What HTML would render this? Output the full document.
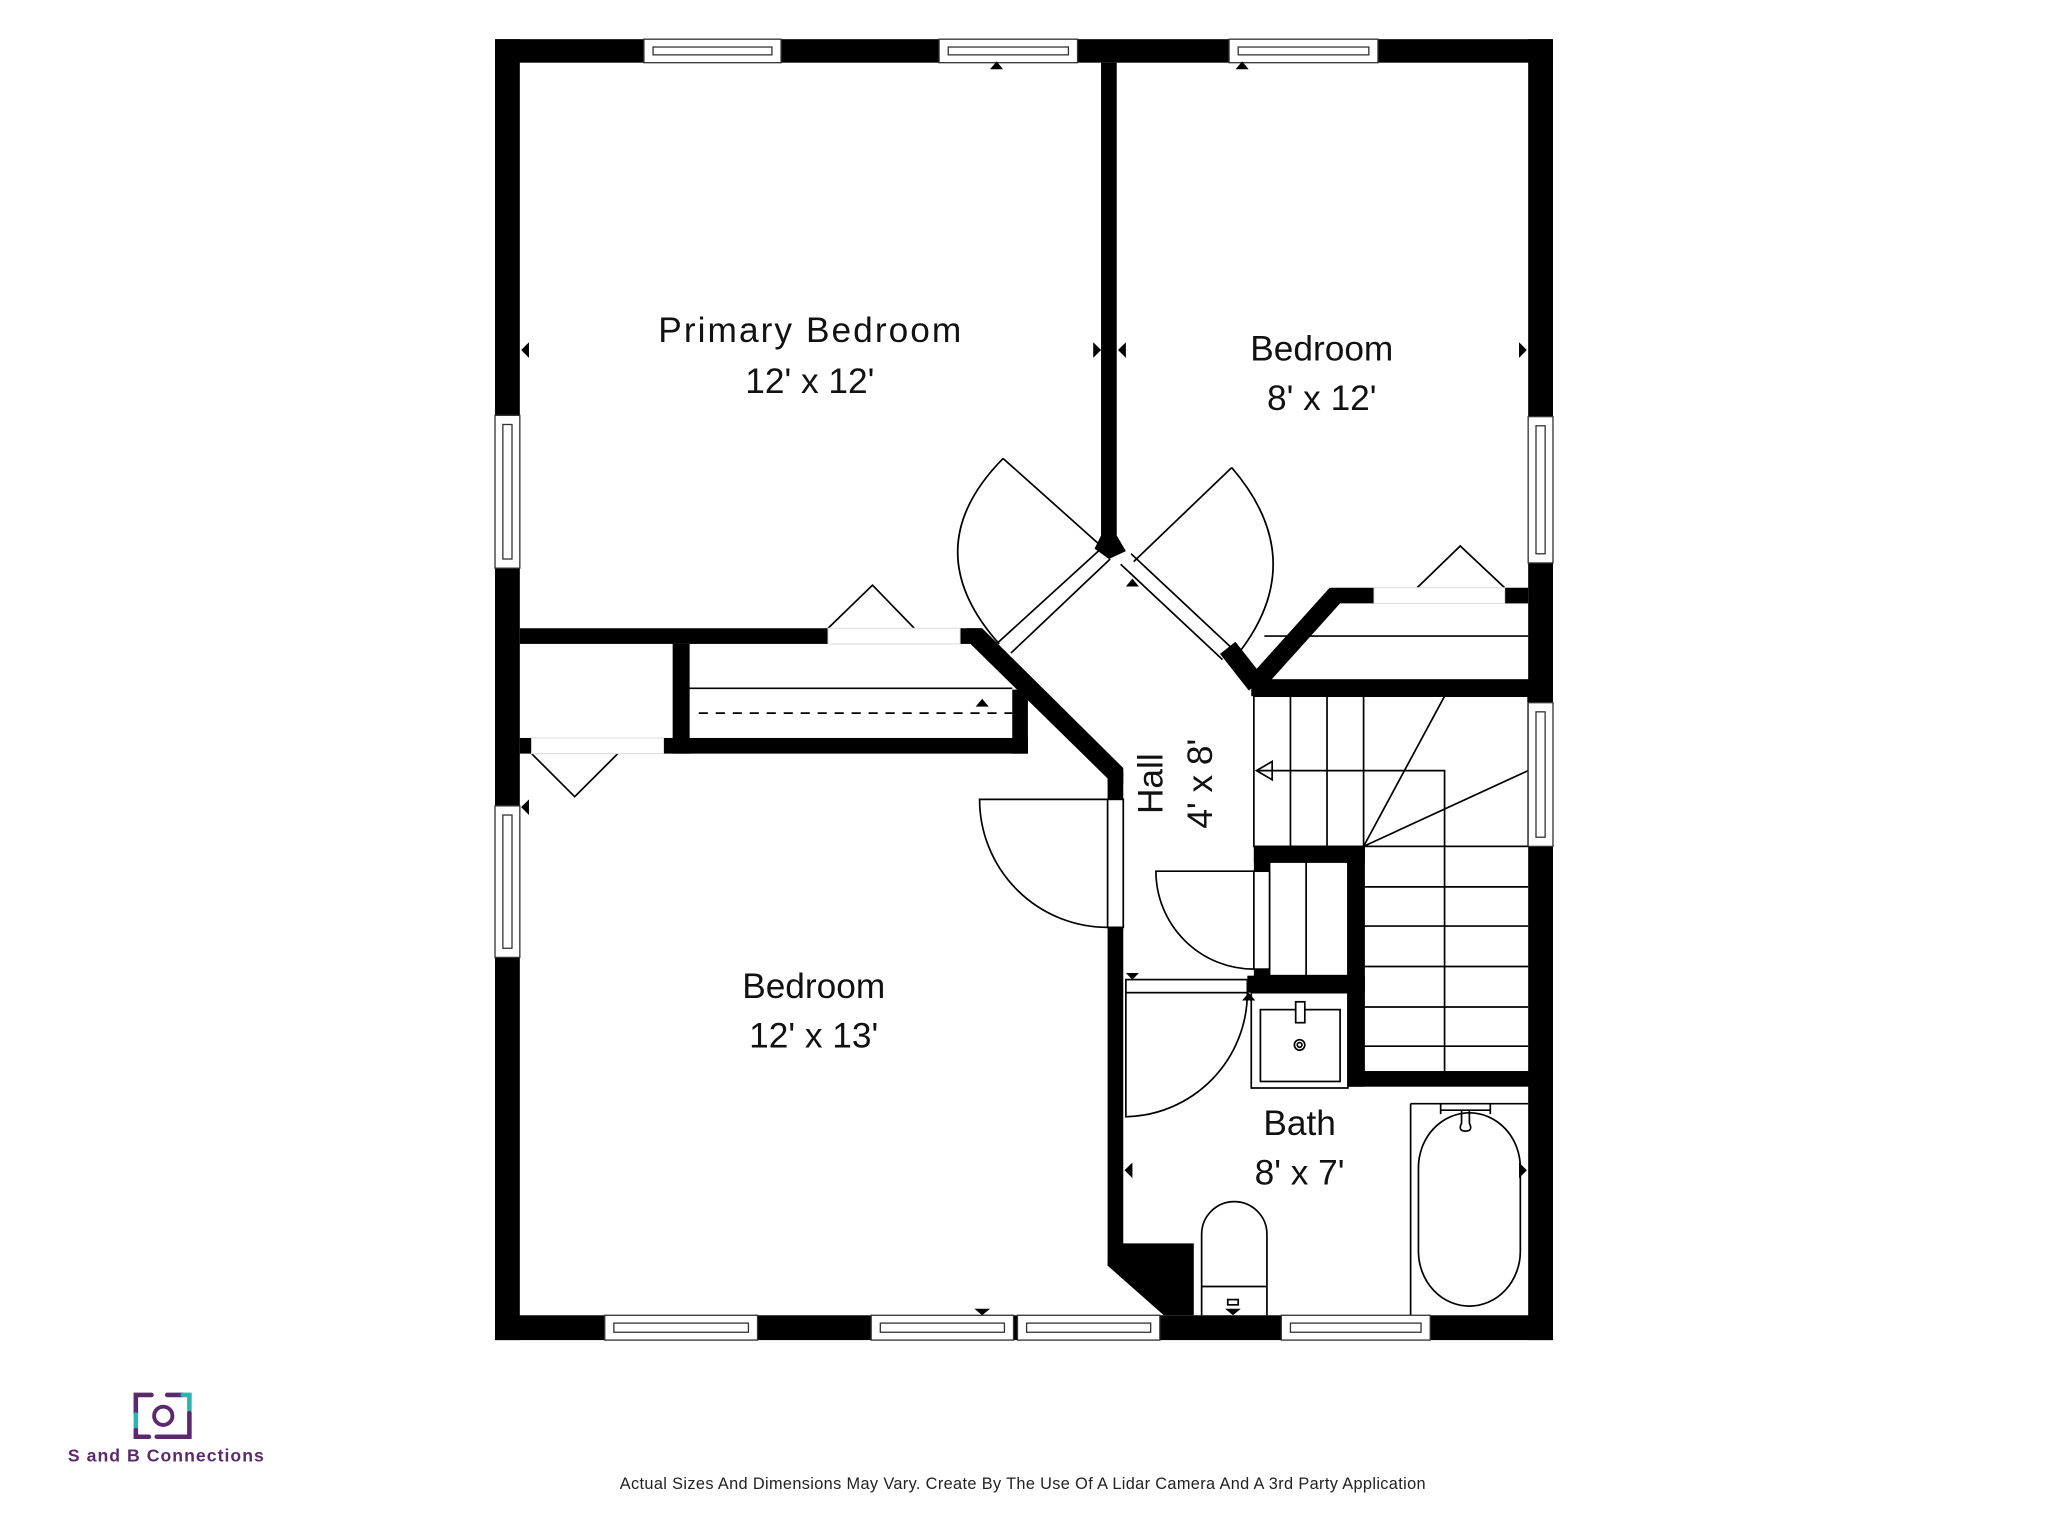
<!DOCTYPE html>
<html><head><meta charset="utf-8"><style>html,body{margin:0;padding:0;background:#fff}svg{display:block}</style></head>
<body>
<svg width="2048" height="1536" viewBox="0 0 1568 1176" xmlns="http://www.w3.org/2000/svg" font-family="'Liberation Sans', 'DejaVu Sans', sans-serif">
<rect width="1568" height="1176" fill="#fff"/>
<g fill="#000">
<rect x="379" y="30" width="810" height="18"/>
<rect x="379" y="30" width="19" height="996"/>
<rect x="1170" y="30" width="19" height="996"/>
<rect x="379" y="1007" width="810" height="19"/>
<rect x="843" y="48" width="12" height="370"/>
<polygon points="843,410 855,410 862,422 849,428 838,420"/>
<rect x="398" y="481" width="236" height="12"/>
<rect x="735" y="481" width="16" height="12"/>
<polygon points="740,481 752,481 860,588 860,600 848,600 848,596 742,492"/>
<rect x="515" y="493" width="13" height="84"/>
<rect x="508" y="565" width="279" height="12"/>
<rect x="775" y="528" width="12" height="49"/>
<rect x="398" y="565" width="9" height="12"/>
<rect x="848" y="590" width="12" height="22"/>
<rect x="848" y="710" width="12" height="259"/>
<polygon points="848,965 860,952 914,952 914,1007 891,1007 848,969"/>
<polygon points="955,520 1018,450 1052,450 1052,462 1026,462 972,522"/>
<rect x="1152" y="450" width="18" height="12"/>
<rect x="958" y="520" width="231" height="13"/>
<rect x="960" y="648" width="85" height="12"/>
<rect x="960" y="648" width="12" height="19"/>
<rect x="960" y="742" width="12" height="18"/>
<rect x="1032" y="648" width="13" height="184"/>
<rect x="1032" y="820" width="157" height="12"/>
<rect x="955" y="747" width="90" height="13"/>
</g>
<line x1="940" y1="496" x2="962" y2="524" stroke="#000" stroke-width="15"/>
<g stroke="#000" stroke-width="1.3" fill="none">
<line x1="528" y1="527" x2="775" y2="527"/>
<line x1="535" y1="546" x2="775" y2="546" stroke-dasharray="7,6"/>
<line x1="968" y1="487" x2="1170" y2="487"/>
<polyline points="634,481 668,448 700,481"/>
<polyline points="1085,450 1118,418 1152,450"/>
<polyline points="407,577 440,610 473,577"/>
<line x1="764" y1="492" x2="843" y2="420"/>
<line x1="774" y1="500" x2="850" y2="428"/>
<line x1="843" y1="418" x2="768" y2="351"/>
<path d="M768,351 Q700,420 765,493"/>
<line x1="858" y1="432" x2="936" y2="505"/>
<line x1="866" y1="424" x2="944" y2="497"/>
<line x1="868" y1="430" x2="943" y2="358"/>
<path d="M943,358 Q1005,430 946,503"/>
<rect x="848" y="612" width="12" height="98" fill="#fff"/>
<path d="M848,612 H750 A98,98 0 0 0 848,710"/>
<rect x="972" y="660" width="60" height="87"/>
<line x1="1000" y1="660" x2="1000" y2="747"/>
<rect x="960" y="667" width="12" height="75" fill="#fff"/>
<path d="M960,667 H885 A75,75 0 0 0 960,742"/>
<rect x="862" y="750" width="93" height="10" fill="#fff"/>
<path d="M862,760 V855 A95,95 0 0 0 955,760"/>
<rect x="960" y="533" width="210" height="115"/>
<line x1="988" y1="533" x2="988" y2="648"/>
<line x1="1016" y1="533" x2="1016" y2="648"/>
<line x1="1044" y1="533" x2="1044" y2="648"/>
<line x1="1044" y1="648" x2="1106" y2="533"/>
<line x1="1044" y1="648" x2="1170" y2="590"/>
<line x1="1045" y1="679" x2="1170" y2="679"/>
<line x1="1045" y1="709" x2="1170" y2="709"/>
<line x1="1045" y1="740" x2="1170" y2="740"/>
<line x1="1045" y1="771" x2="1170" y2="771"/>
<line x1="1045" y1="801" x2="1170" y2="801"/>
<polyline points="963,590 1106,590 1106,820"/>
<polygon points="962,590 974,583 974,597"/>
<rect x="958" y="760" width="74" height="73"/>
<rect x="965" y="773" width="61" height="55"/>
<rect x="992" y="767" width="7" height="16" fill="#fff"/>
<circle cx="995" cy="800" r="4"/>
<circle cx="995" cy="800" r="1.8"/>
<line x1="1080" y1="845" x2="1080" y2="1007"/>
<line x1="1080" y1="845" x2="1170" y2="845"/>
<rect x="1086" y="852" width="78" height="148" rx="39" ry="42"/>
<line x1="1103" y1="845" x2="1103" y2="853"/><line x1="1141" y1="845" x2="1141" y2="853"/>
<line x1="1103" y1="850" x2="1141" y2="850"/>
<path d="M1119,850 V860 Q1116,866 1122,866 Q1128,866 1125,860 V850"/>
<path d="M920,1007 V945 A25,25 0 0 1 970,945 V1007"/>
<line x1="920" y1="985" x2="970" y2="985"/>
<rect x="940" y="995" width="8" height="4"/>
</g>
<g fill="#fff" stroke="#333" stroke-width="1">
<rect x="493" y="30" width="105" height="18"/><rect x="500" y="36" width="91" height="6"/>
<rect x="719" y="30" width="106" height="18"/><rect x="726" y="36" width="92" height="6"/>
<rect x="941" y="30" width="114" height="18"/><rect x="948" y="36" width="100" height="6"/>
<rect x="379" y="318" width="19" height="117"/><rect x="385" y="325" width="7" height="103"/>
<rect x="379" y="617" width="19" height="116"/><rect x="385" y="624" width="7" height="102"/>
<rect x="1170" y="319" width="19" height="112"/><rect x="1176" y="326" width="7" height="98"/>
<rect x="1170" y="538" width="19" height="110"/><rect x="1176" y="545" width="7" height="96"/>
<rect x="463" y="1007" width="117" height="19"/><rect x="470" y="1013" width="103" height="7"/>
<rect x="667" y="1007" width="109" height="19"/><rect x="674" y="1013" width="95" height="7"/>
<rect x="779" y="1007" width="109" height="19"/><rect x="786" y="1013" width="95" height="7"/>
<rect x="981" y="1007" width="114" height="19"/><rect x="988" y="1013" width="100" height="7"/>
</g>
<g fill="#fff" stroke="#ddd" stroke-width="0.8">
<rect x="634" y="481" width="101" height="12"/>
<rect x="1052" y="450" width="100" height="12"/>
<rect x="407" y="565" width="101" height="12"/>
</g>
<g fill="#000">
<polygon points="758,53 768,53 763,47"/>
<polygon points="946,53 956,53 951,47"/>
<polygon points="399,268 405,262 405,274"/>
<polygon points="843,268 837,262 837,274"/>
<polygon points="856,268 862,262 862,274"/>
<polygon points="1169,268 1163,262 1163,274"/>
<polygon points="746,1002 758,1002 752,1007"/>
<polygon points="399,618 405,612 405,624"/>
<polygon points="747,541 757,541 752,535"/>
<polygon points="862,449 872,449 867,443"/>
<polygon points="862,745 872,745 867,750"/>
<polygon points="951,766 961,766 956,760"/>
<polygon points="861,896 867,890 867,902"/>
<polygon points="1169,896 1163,890 1163,902"/>
<polygon points="938,1002 950,1002 944,1007"/>
</g>
<g font-size="27" fill="#111" text-anchor="middle">
<text x="620" y="262" textLength="232">Primary Bedroom</text>
<text x="620" y="301">12' x 12'</text>
<text x="1012" y="276">Bedroom</text>
<text x="1012" y="314">8' x 12'</text>
<text x="623" y="764">Bedroom</text>
<text x="623" y="802">12' x 13'</text>
<text x="995" y="869">Bath</text>
<text x="995" y="907">8' x 7'</text>
<text transform="translate(890,600) rotate(-90)">Hall</text>
<text transform="translate(928,600) rotate(-90)">4' x 8'</text>
</g>
<text x="783" y="1140" font-size="12.5" text-anchor="middle" fill="#222" textLength="617">Actual Sizes And Dimensions May Vary. Create By The Use Of A Lidar Camera And A 3rd Party Application</text>
<g stroke-width="3.5" fill="none" stroke-linecap="round">
<path d="M104,1083 V1068 H116" stroke="#5b2a6e"/>
<path d="M104,1083 V1095" stroke="#2bb5b0"/>
<path d="M104,1095 V1100 H114" stroke="#5b2a6e"/>
<path d="M128,1068 H140" stroke="#5b2a6e"/>
<path d="M140,1068 H145 V1082" stroke="#2bb5b0"/>
<path d="M145,1082 V1100 H120" stroke="#5b2a6e"/>
<circle cx="125" cy="1084" r="7" stroke="#5b2a6e" stroke-width="3"/>
</g>
<text x="127" y="1119" font-size="13.5" text-anchor="middle" fill="#5b2a6e" font-weight="bold" textLength="150">S and B Connections</text>
</svg>
</body></html>
